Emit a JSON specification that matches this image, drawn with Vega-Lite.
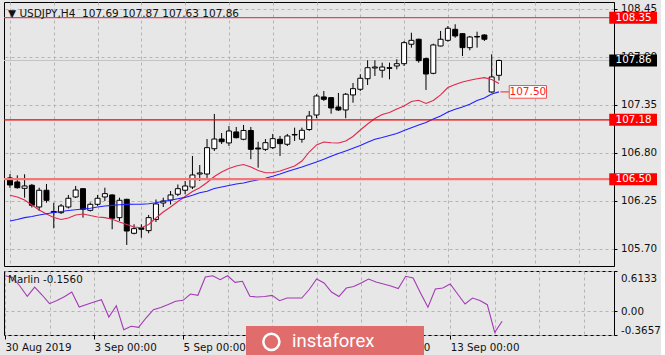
{
  "$schema": "https://vega.github.io/schema/vega-lite/v6.json",
  "background": "#e7e7e7",
  "padding": {"left": 2, "top": 1, "right": 0, "bottom": 0},
  "spacing": 3,
  "config": {
    "view": {"stroke": "#000000", "strokeWidth": 1},
    "axis": {"labelFont": "DejaVu Sans", "labelFontSize": 10.3, "labelColor": "#111111", "domainColor": "#000000", "tickColor": "#000000", "gridColor": "#b4b4b4", "gridDash": [3, 3], "gridWidth": 1}
  },
  "datasets": {
    "candles": [
      {"i":0,"o":106.514,"h":106.559,"l":106.399,"c":106.433,"f":106.315,"s":106.021,"m":0.541},
      {"i":1,"o":106.468,"h":106.544,"l":106.391,"c":106.402,"f":106.296,"s":106.038,"m":0.514},
      {"i":2,"o":106.395,"h":106.556,"l":106.288,"c":106.422,"f":106.261,"s":106.059,"m":0.384},
      {"i":3,"o":106.430,"h":106.445,"l":106.175,"c":106.201,"f":106.204,"s":106.072,"m":0.226},
      {"i":4,"o":106.181,"h":106.402,"l":106.135,"c":106.373,"f":106.147,"s":106.089,"m":0.368},
      {"i":5,"o":106.373,"h":106.445,"l":106.230,"c":106.258,"f":106.101,"s":106.104,"m":0.246},
      {"i":6,"o":106.130,"h":106.230,"l":105.937,"c":106.118,"f":106.061,"s":106.118,"m":0.113},
      {"i":7,"o":106.116,"h":106.216,"l":106.101,"c":106.193,"f":106.038,"s":106.130,"m":0.162},
      {"i":8,"o":106.181,"h":106.319,"l":106.164,"c":106.281,"f":106.055,"s":106.141,"m":0.220},
      {"i":9,"o":106.296,"h":106.422,"l":106.284,"c":106.376,"f":106.089,"s":106.150,"m":0.292},
      {"i":10,"o":106.391,"h":106.395,"l":106.059,"c":106.155,"f":106.101,"s":106.158,"m":0.062},
      {"i":11,"o":106.143,"h":106.233,"l":106.130,"c":106.212,"f":106.084,"s":106.167,"m":0.101},
      {"i":12,"o":106.212,"h":106.319,"l":106.193,"c":106.281,"f":106.067,"s":106.181,"m":0.139},
      {"i":13,"o":106.296,"h":106.402,"l":106.250,"c":106.334,"f":106.059,"s":106.192,"m":0.174},
      {"i":14,"o":106.319,"h":106.325,"l":105.926,"c":106.052,"f":106.040,"s":106.200,"m":-0.090},
      {"i":15,"o":106.059,"h":106.288,"l":106.021,"c":106.258,"f":106.009,"s":106.207,"m":0.082},
      {"i":16,"o":106.269,"h":106.275,"l":105.746,"c":105.906,"f":105.981,"s":106.211,"m":-0.285},
      {"i":17,"o":105.880,"h":105.983,"l":105.868,"c":105.933,"f":105.952,"s":106.212,"m":-0.233},
      {"i":18,"o":105.944,"h":105.983,"l":105.829,"c":105.926,"f":105.944,"s":106.213,"m":-0.248},
      {"i":19,"o":105.910,"h":106.090,"l":105.880,"c":106.059,"f":105.981,"s":106.218,"m":-0.106},
      {"i":20,"o":106.038,"h":106.267,"l":106.009,"c":106.216,"f":106.055,"s":106.230,"m":0.021},
      {"i":21,"o":106.227,"h":106.288,"l":106.181,"c":106.250,"f":106.124,"s":106.246,"m":0.055},
      {"i":22,"o":106.261,"h":106.364,"l":106.210,"c":106.319,"f":106.181,"s":106.258,"m":0.101},
      {"i":23,"o":106.327,"h":106.439,"l":106.307,"c":106.391,"f":106.244,"s":106.275,"m":0.150},
      {"i":24,"o":106.373,"h":106.479,"l":106.327,"c":106.422,"f":106.301,"s":106.291,"m":0.165},
      {"i":25,"o":106.410,"h":106.766,"l":106.387,"c":106.548,"f":106.359,"s":106.315,"m":0.261},
      {"i":26,"o":106.559,"h":106.662,"l":106.479,"c":106.571,"f":106.402,"s":106.344,"m":0.242},
      {"i":27,"o":106.559,"h":106.960,"l":106.514,"c":106.861,"f":106.462,"s":106.362,"m":0.522},
      {"i":28,"o":106.849,"h":107.247,"l":106.823,"c":106.960,"f":106.531,"s":106.393,"m":0.541},
      {"i":29,"o":106.960,"h":107.029,"l":106.903,"c":106.929,"f":106.582,"s":106.410,"m":0.480},
      {"i":30,"o":106.915,"h":107.109,"l":106.880,"c":107.052,"f":106.622,"s":106.428,"m":0.541},
      {"i":31,"o":107.041,"h":107.098,"l":106.968,"c":106.975,"f":106.651,"s":106.445,"m":0.440},
      {"i":32,"o":106.957,"h":107.121,"l":106.946,"c":107.058,"f":106.668,"s":106.456,"m":0.456},
      {"i":33,"o":107.058,"h":107.098,"l":106.728,"c":106.842,"f":106.640,"s":106.476,"m":0.226},
      {"i":34,"o":106.857,"h":106.929,"l":106.632,"c":106.846,"f":106.599,"s":106.493,"m":0.215},
      {"i":35,"o":106.842,"h":106.960,"l":106.823,"c":106.918,"f":106.574,"s":106.510,"m":0.223},
      {"i":36,"o":106.861,"h":107.018,"l":106.846,"c":106.964,"f":106.574,"s":106.533,"m":0.241},
      {"i":37,"o":106.957,"h":106.995,"l":106.766,"c":106.907,"f":106.594,"s":106.559,"m":0.159},
      {"i":38,"o":106.900,"h":107.018,"l":106.880,"c":106.995,"f":106.622,"s":106.588,"m":0.200},
      {"i":39,"o":107.012,"h":107.090,"l":106.937,"c":107.006,"f":106.651,"s":106.613,"m":0.200},
      {"i":40,"o":106.957,"h":107.090,"l":106.918,"c":107.060,"f":106.708,"s":106.639,"m":0.200},
      {"i":41,"o":107.069,"h":107.281,"l":107.052,"c":107.224,"f":106.811,"s":106.668,"m":0.330},
      {"i":42,"o":107.235,"h":107.473,"l":107.198,"c":107.453,"f":106.892,"s":106.697,"m":0.491},
      {"i":43,"o":107.442,"h":107.510,"l":107.396,"c":107.415,"f":106.926,"s":106.728,"m":0.430},
      {"i":44,"o":107.434,"h":107.440,"l":107.250,"c":107.316,"f":106.918,"s":106.762,"m":0.292},
      {"i":45,"o":107.327,"h":107.488,"l":107.281,"c":107.293,"f":106.915,"s":106.794,"m":0.223},
      {"i":46,"o":107.293,"h":107.488,"l":107.198,"c":107.473,"f":106.937,"s":106.823,"m":0.353},
      {"i":47,"o":107.465,"h":107.602,"l":107.376,"c":107.537,"f":106.989,"s":106.854,"m":0.376},
      {"i":48,"o":107.530,"h":107.702,"l":107.510,"c":107.656,"f":107.063,"s":106.886,"m":0.430},
      {"i":49,"o":107.651,"h":107.862,"l":107.579,"c":107.777,"f":107.132,"s":106.922,"m":0.491},
      {"i":50,"o":107.774,"h":107.862,"l":107.682,"c":107.785,"f":107.195,"s":106.957,"m":0.445},
      {"i":51,"o":107.748,"h":107.835,"l":107.663,"c":107.785,"f":107.241,"s":106.977,"m":0.414},
      {"i":52,"o":107.777,"h":107.835,"l":107.644,"c":107.770,"f":107.264,"s":107.000,"m":0.384},
      {"i":53,"o":107.797,"h":107.874,"l":107.759,"c":107.823,"f":107.304,"s":107.023,"m":0.346},
      {"i":54,"o":107.823,"h":108.083,"l":107.797,"c":108.064,"f":107.338,"s":107.058,"m":0.532},
      {"i":55,"o":108.046,"h":108.178,"l":108.007,"c":108.091,"f":107.390,"s":107.089,"m":0.506},
      {"i":56,"o":108.103,"h":108.110,"l":107.835,"c":107.858,"f":107.404,"s":107.121,"m":0.277},
      {"i":57,"o":107.881,"h":107.892,"l":107.522,"c":107.705,"f":107.367,"s":107.149,"m":0.058},
      {"i":58,"o":107.713,"h":108.052,"l":107.702,"c":108.038,"f":107.402,"s":107.189,"m":0.338},
      {"i":59,"o":108.026,"h":108.198,"l":108.020,"c":108.103,"f":107.465,"s":107.224,"m":0.353},
      {"i":60,"o":108.091,"h":108.255,"l":108.075,"c":108.229,"f":107.550,"s":107.270,"m":0.414},
      {"i":61,"o":108.217,"h":108.275,"l":108.121,"c":108.141,"f":107.585,"s":107.301,"m":0.261},
      {"i":62,"o":108.167,"h":108.172,"l":107.911,"c":108.007,"f":107.613,"s":107.327,"m":0.108},
      {"i":63,"o":108.007,"h":108.141,"l":107.977,"c":108.129,"f":107.633,"s":107.358,"m":0.200},
      {"i":64,"o":108.135,"h":108.190,"l":108.007,"c":108.129,"f":107.651,"s":107.402,"m":0.162},
      {"i":65,"o":108.152,"h":108.160,"l":108.083,"c":108.103,"f":107.663,"s":107.430,"m":0.098},
      {"i":66,"o":107.499,"h":107.931,"l":107.491,"c":107.671,"f":107.642,"s":107.476,"m":-0.325},
      {"i":67,"o":107.690,"h":107.870,"l":107.630,"c":107.860,"f":107.596,"s":107.500,"m":-0.156}
    ],
    "levels": [
      {"price": 108.35, "label": "108.35", "kind": "level"},
      {"price": 107.18, "label": "107.18", "kind": "level"},
      {"price": 106.50, "label": "106.50", "kind": "level"},
      {"price": 107.86, "label": "107.86", "kind": "bid"}
    ],
    "maLabel": [{"price": 107.50, "label": "107.50"}],
    "brand": [{"text": "instaforex"}]
  },
  "resolve": {"scale": {"x": "independent", "y": "independent"}},
  "vconcat": [
    {
      "width": 610,
      "height": 264,
      "title": {"text": "▼ USDJPY,H4\u00a0 107.69 107.87 107.63 107.86", "anchor": "start", "frame": "group", "orient": "top", "offset": -17, "dx": 4, "font": "DejaVu Sans", "fontSize": 10.5, "fontWeight": "normal", "color": "#111111"},
      "layer": [
        {
          "data": {"name": "levels"},
          "transform": [{"filter": "datum.kind == 'bid'"}],
          "mark": {"type": "rule", "color": "#c2c2c2", "strokeWidth": 1},
          "encoding": {"y": {"field": "price", "type": "quantitative", "title": null, "scale": {"domain": [105.505, 108.53], "nice": false, "zero": false},
            "axis": {"orient": "right", "values": [108.45, 107.9, 107.35, 106.8, 106.25, 105.7], "tickCount": 20, "format": ".2f", "grid": true, "tickSize": 3, "labelPadding": 3.5, "labelOverlap": false, "title": null}}}
        },
        {
          "data": {"name": "candles"},
          "encoding": {"x": {"field": "i", "type": "quantitative", "title": null, "scale": {"domain": [-0.135, 82.075], "nice": false, "zero": false},
            "axis": {"values": [0, 6, 12, 18, 24, 30, 36, 42, 48, 54, 60, 66, 72, 78], "tickCount": 30, "labels": false, "ticks": false, "domain": false, "grid": true, "title": null}}},
          "layer": [
            {"mark": {"type": "rule", "color": "#000000", "strokeWidth": 1, "clip": true},
             "encoding": {"y": {"field": "l", "type": "quantitative", "title": null, "scale": {"domain": [105.505, 108.53], "nice": false, "zero": false}}, "y2": {"field": "h"}}},
            {"mark": {"type": "bar", "size": 5, "stroke": "#000000", "strokeWidth": 1, "clip": true},
             "encoding": {"y": {"field": "o", "type": "quantitative", "title": null}, "y2": {"field": "c"},
               "fill": {"condition": {"test": "datum.c > datum.o", "value": "#ffffff"}, "value": "#000000"}}},
            {"mark": {"type": "line", "color": "#e0284e", "strokeWidth": 1.1},
             "encoding": {"y": {"field": "f", "type": "quantitative", "title": null}}},
            {"mark": {"type": "line", "color": "#2222ff", "strokeWidth": 1.1},
             "encoding": {"y": {"field": "s", "type": "quantitative", "title": null}}}
          ]
        },
        {
          "data": {"name": "levels"},
          "transform": [{"filter": "datum.price == 108.35"}],
          "mark": {"type": "rule", "color": "#e04a5a", "strokeWidth": 1.2},
          "encoding": {"y": {"field": "price", "type": "quantitative", "title": null}}
        },
        {
          "data": {"name": "levels"},
          "transform": [{"filter": "datum.price == 107.18"}],
          "mark": {"type": "rule", "color": "#f00000", "strokeWidth": 1.2},
          "encoding": {"y": {"field": "price", "type": "quantitative", "title": null}}
        },
        {
          "data": {"name": "levels"},
          "transform": [{"filter": "datum.price == 106.5"}],
          "mark": {"type": "rule", "color": "#f07878", "strokeWidth": 2.2},
          "encoding": {"y": {"field": "price", "type": "quantitative", "title": null}}
        },
        {
          "data": {"name": "levels"},
          "mark": {"type": "point", "shape": "M-1,-0.25H1V0.25H-1Z", "size": 2280, "filled": true, "opacity": 1, "strokeWidth": 0},
          "encoding": {
            "x": {"datum": 85.38, "type": "quantitative"},
            "y": {"field": "price", "type": "quantitative", "title": null},
            "fill": {"condition": {"test": "datum.kind == 'bid'", "value": "#000000"}, "value": "#ff0000"}
          }
        },
        {
          "data": {"name": "levels"},
          "mark": {"type": "text", "color": "#ffffff", "font": "DejaVu Sans", "fontSize": 10.3, "align": "center", "baseline": "middle"},
          "encoding": {
            "x": {"datum": 85.45, "type": "quantitative"},
            "y": {"field": "price", "type": "quantitative", "title": null},
            "text": {"field": "label"}
          }
        },
        {
          "data": {"name": "maLabel"},
          "mark": {"type": "rule", "color": "#ff2020", "strokeWidth": 1},
          "encoding": {
            "x": {"datum": 67.2, "type": "quantitative"},
            "x2": {"datum": 68.45},
            "y": {"field": "price", "type": "quantitative", "title": null}
          }
        },
        {
          "data": {"name": "maLabel"},
          "mark": {"type": "point", "shape": "M-1,-0.34H1V0.34H-1Z", "size": 1391, "filled": true, "fill": "#ffffff", "stroke": "#f05050", "strokeWidth": 1, "opacity": 1},
          "encoding": {
            "x": {"datum": 70.96, "type": "quantitative"},
            "y": {"field": "price", "type": "quantitative", "title": null}
          }
        },
        {
          "data": {"name": "maLabel"},
          "mark": {"type": "text", "color": "#ff1a1a", "font": "DejaVu Sans", "fontSize": 10.5, "align": "center", "baseline": "middle"},
          "encoding": {
            "x": {"datum": 70.96, "type": "quantitative"},
            "y": {"field": "price", "type": "quantitative", "title": null},
            "text": {"field": "label"}
          }
        }
      ]
    },
    {
      "width": 610,
      "height": 64,
      "title": {"text": "Marlin -0.1560", "anchor": "start", "frame": "group", "orient": "top", "offset": -15, "dx": 4, "font": "DejaVu Sans", "fontSize": 10.3, "fontWeight": "normal", "color": "#111111"},
      "layer": [
        {
          "data": {"name": "candles"},
          "mark": {"type": "line", "color": "#a23cb4", "strokeWidth": 1.1},
          "encoding": {
            "x": {"field": "i", "type": "quantitative", "title": null, "scale": {"domain": [-0.135, 82.075], "nice": false, "zero": false},
              "axis": {"values": [0, 6, 12, 18, 24, 30, 36, 42, 48, 54, 60, 66, 72, 78], "tickCount": 30, "grid": true, "domain": false, "tickSize": 4, "labelPadding": 3, "labelAlign": "left", "labelFlush": false, "labelOverlap": false, "title": null,
                "tickColor": {"condition": {"test": "datum.value % 12 == 0 && datum.value <= 60", "value": "#000000"}, "value": "rgba(0,0,0,0)"},
                "labelExpr": "datum.value == 0 ? '30 Aug 2019' : datum.value == 12 ? '3 Sep 00:00' : datum.value == 24 ? '5 Sep 00:00' : datum.value == 36 ? '9 Sep 00:00' : datum.value == 48 ? '11 Sep 00:00' : datum.value == 60 ? '13 Sep 00:00' : ''"}},
            "y": {"field": "m", "type": "quantitative", "title": null, "scale": {"domain": [-0.3657, 0.6133], "nice": false, "zero": false},
              "axis": {"orient": "right", "values": [0.6133, 0, -0.3657], "tickCount": 10, "grid": true, "tickSize": 3, "labelPadding": 3.5, "labelFlush": false, "labelOverlap": false, "title": null,
                "labelBaseline": {"condition": [{"test": "datum.value > 0.5", "value": "top"}, {"test": "datum.value < -0.3", "value": "bottom"}], "value": "middle"},
                "labelOffset": {"condition": {"test": "datum.value > 0.5", "value": 2}, "value": 0},
                "labelExpr": "datum.value > 0.5 ? '0.6133' : datum.value < -0.3 ? '-0.3657' : '0.00'"}}
          }
        },
        {
          "data": {"name": "brand"},
          "mark": {"type": "rect", "color": "#e06c6c", "opacity": 1},
          "encoding": {
            "x": {"datum": 32.48, "type": "quantitative"},
            "x2": {"datum": 56.47},
            "y": {"datum": -0.228, "type": "quantitative"},
            "y2": {"datum": -0.8}
          }
        },
        {
          "data": {"name": "brand"},
          "mark": {"type": "point", "shape": "circle", "size": 260, "filled": false, "stroke": "#ffffff", "strokeWidth": 2.5, "opacity": 1},
          "encoding": {
            "x": {"datum": 35.9, "type": "quantitative"},
            "y": {"datum": -0.47, "type": "quantitative"}
          }
        },
        {
          "data": {"name": "brand"},
          "mark": {"type": "text", "color": "#ffffff", "font": "Roboto", "fontSize": 18.5, "align": "left", "baseline": "alphabetic"},
          "encoding": {
            "x": {"datum": 38.68, "type": "quantitative"},
            "y": {"datum": -0.55, "type": "quantitative"},
            "text": {"field": "text"}
          }
        }
      ]
    }
  ]
}
